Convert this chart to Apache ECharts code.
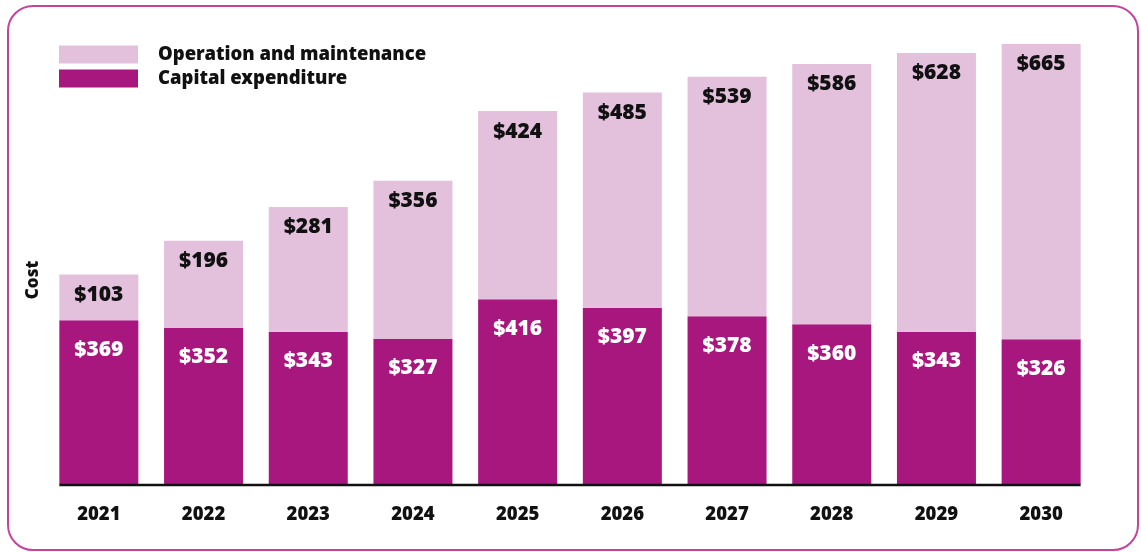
<!DOCTYPE html>
<html>
<head>
<meta charset="utf-8">
<script src="https://cdn.jsdelivr.net/npm/echarts@6/dist/echarts.min.js"></script>
<style>
  html, body { margin: 0; padding: 0; background: #fff; }
  #frame {
    position: absolute; left: 7px; top: 5px; width: 1128px; height: 542px;
    border: 2px solid #c4449c; border-radius: 26px;
  }
  #chart { position: absolute; left: 0; top: 0; width: 1141px; height: 552px; }
</style>
</head>
<body>
<div id="frame"></div>
<div id="chart"></div>
<script>
const years = ['2021', '2022', '2023', '2024', '2025', '2026', '2027', '2028', '2029', '2030']
const capex = [369, 352, 343, 327, 416, 397, 378, 360, 343, 326]
const operation = [103, 196, 281, 356, 424, 485, 539, 586, 628, 665]

const font = '"Noto Sans", sans-serif'
const chart = echarts.init(document.getElementById('chart'))

chart.setOption({
  animation: false,
  grid: { left: 46.5, right: 47.5, top: 40, bottom: 68 },
  legend: {
    orient: 'vertical',
    left: 59,
    top: 45,
    padding: 0,
    itemWidth: 79,
    itemHeight: 18,
    itemGap: 5,
    icon: 'rect',
    data: ['Operation and maintenance', 'Capital expenditure'],
    textStyle: { fontFamily: font, fontWeight: 900, fontSize: 18.5, color: '#111', padding: [0, 0, 0, 15] }
  },
  xAxis: {
    type: 'category',
    data: years,
    axisLine: { show: false },
    axisTick: { show: false },
    axisLabel: { fontFamily: font, fontWeight: 900, fontSize: 18.5, color: '#111', margin: 21 }
  },
  yAxis: {
    type: 'value',
    min: 0,
    max: 1000,
    name: 'Cost',
    nameLocation: 'middle',
    nameRotate: 90,
    nameGap: 5,
    nameTextStyle: { fontFamily: font, fontWeight: 900, fontSize: 17, color: '#111', padding: [0, 36, 0, 0] },
    axisLine: { show: false },
    axisTick: { show: false },
    axisLabel: { show: false },
    splitLine: { show: false }
  },
  series: [
    {
      name: 'Capital expenditure',
      type: 'bar',
      stack: 'cost',
      barWidth: 79,
      data: capex,
      itemStyle: { color: '#a8177e' },
      label: {
        show: true, position: 'insideTop', distance: 19,
        formatter: p => '$' + p.value,
        fontFamily: font, fontWeight: 900, fontSize: 21, color: '#fff'
      }
    },
    {
      name: 'Operation and maintenance',
      type: 'bar',
      stack: 'cost',
      barWidth: 79,
      data: operation,
      itemStyle: { color: '#e3c1dd' },
      label: {
        show: true, position: 'insideTop', distance: 10,
        formatter: p => '$' + p.value,
        fontFamily: font, fontWeight: 900, fontSize: 21, color: '#111'
      }
    }
  ]
})

// baseline only under the bars, from the first bar's left edge to the last bar's right edge
const x0 = chart.convertToPixel({ xAxisIndex: 0 }, 0) - 39.5
const x1 = chart.convertToPixel({ xAxisIndex: 0 }, years.length - 1) + 39.5
const y0 = chart.convertToPixel({ yAxisIndex: 0 }, 0)
chart.setOption({
  graphic: [{
    type: 'line',
    shape: { x1: x0, y1: y0 + 1, x2: x1, y2: y0 + 1 },
    style: { stroke: '#111', lineWidth: 2.5 },
    z: 10
  }]
})
</script>
</body>
</html>
